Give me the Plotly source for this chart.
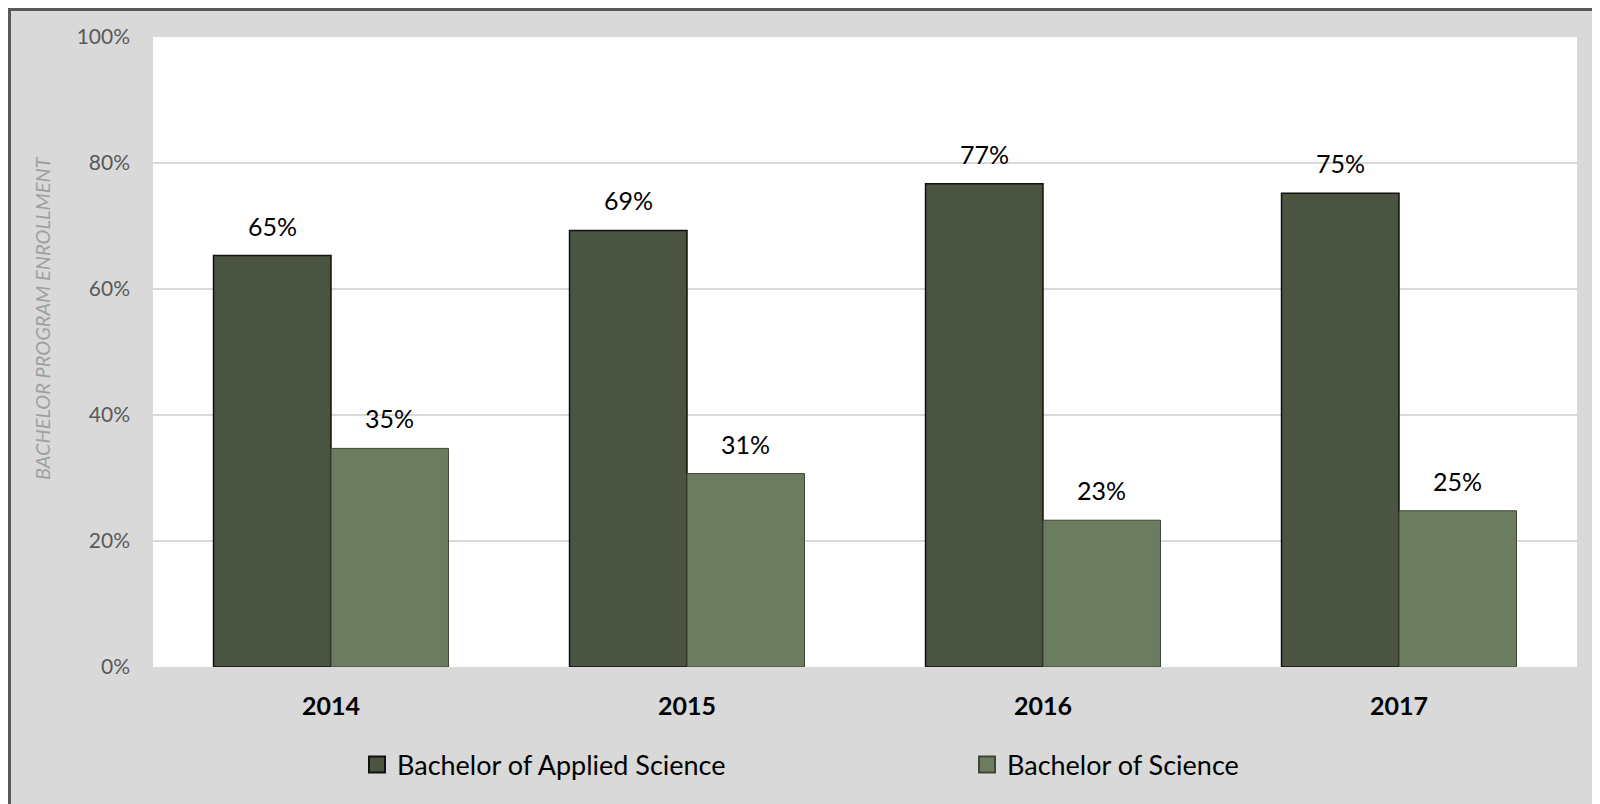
import plotly.graph_objects as go

years = ["2014", "2015", "2016", "2017"]
applied = [65.3, 69.3, 76.7, 75.2]
science = [34.7, 30.7, 23.3, 24.8]
series_names = ["Bachelor of Applied Science", "Bachelor of Science"]
y_ticks = [0, 20, 40, 60, 80, 100]
y_tick_text = ["0%", "20%", "40%", "60%", "80%", "100%"]
y_title = "BACHELOR PROGRAM ENROLLMENT"

DARK = "#4b5440"
LIGHT = "#6c7c5e"
FONT = "Lato"

W, H = 1600, 804
OFF = 8  # page body margin
ML, MT = 145, 29
PW, PH = 1424, 630
MR = W - ML - PW
MB = H - MT - PH
BARGAP = 0.34

def px_x(p):  # page x -> paper
    return (p - OFF - ML) / PW

def px_y(p):  # page y -> paper
    return (MT + PH - (p - OFF)) / PH

fig = go.Figure()
fig.add_trace(go.Bar(
    x=years, y=applied, name=series_names[0], showlegend=False,
    marker=dict(color=DARK, line=dict(color="#111111", width=1.5)),
))
fig.add_trace(go.Bar(
    x=years, y=science, name=series_names[1], showlegend=False,
    marker=dict(color=LIGHT, line=dict(color="#3d4636", width=1)),
))
# legend entries
for name, col, lc in [(series_names[0], DARK, "#111111"), (series_names[1], LIGHT, "#3d4636")]:
    fig.add_trace(go.Scatter(
        x=[None], y=[None], mode="markers", name=name,
        marker=dict(symbol="square", size=16, color=col, line=dict(color=lc, width=2)),
    ))

# data labels above each bar (category index + half-bar pixel shift)
bar_w = PW / len(years) * (1 - BARGAP) / 2
annotations = []
for vals, sign in [(applied, -1), (science, 1)]:
    for i, v in enumerate(vals):
        annotations.append(dict(
            x=i, y=v, xref="x", yref="y", text=f"{round(v)}%", showarrow=False,
            xshift=sign * bar_w / 2, yshift=30, xanchor="center", yanchor="middle",
            font=dict(family=FONT, size=25, color="#000000"),
        ))
annotations.append(dict(
    text=y_title, xref="paper", yref="paper", x=px_x(42), y=px_y(318),
    textangle=-90, showarrow=False, xanchor="center", yanchor="middle",
    font=dict(family=FONT, size=20, color="#a0a0a0", style="italic"),
))

shapes = [
    dict(type="line", xref="paper", yref="paper", x0=px_x(9.5), x1=px_x(9.5), y0=px_y(6), y1=px_y(H + 20),
         line=dict(color="#595959", width=3)),
    dict(type="line", xref="paper", yref="paper", x0=px_x(8), x1=px_x(W + 20), y0=px_y(9.5), y1=px_y(9.5),
         line=dict(color="#595959", width=3)),
]

fig.update_layout(
    width=W, height=H,
    margin=dict(l=ML, r=MR, t=MT, b=MB, autoexpand=False),
    paper_bgcolor="#d9d9d9",
    plot_bgcolor="#ffffff",
    barmode="group",
    bargap=BARGAP,
    bargroupgap=0,
    font=dict(family=FONT),
    shapes=shapes,
    annotations=annotations,
    showlegend=True,
    legend=dict(
        orientation="h", x=px_x(357), xanchor="left", y=px_y(765), yanchor="middle",
        entrywidth=565, entrywidthmode="pixels",
        font=dict(family=FONT, size=27, color="#000000"),
        bgcolor="rgba(0,0,0,0)", itemsizing="trace",
    ),
)
fig.update_xaxes(
    type="category", range=[-0.5, len(years) - 0.5], showgrid=False, ticks="", showline=False,
    tickfont=dict(family=FONT, size=25, color="#000000", weight="bold"),
    ticklabelstandoff=22, automargin=False,
)
fig.update_yaxes(
    range=[0, 100], tickvals=y_ticks, ticktext=y_tick_text,
    showgrid=True, gridcolor="#d9d9d9", gridwidth=2,
    zeroline=False, showline=False, ticks="",
    tickfont=dict(family=FONT, size=21, color="#595959"),
    ticklabelstandoff=22, automargin=False,
)

fig.write_html("out.html")
